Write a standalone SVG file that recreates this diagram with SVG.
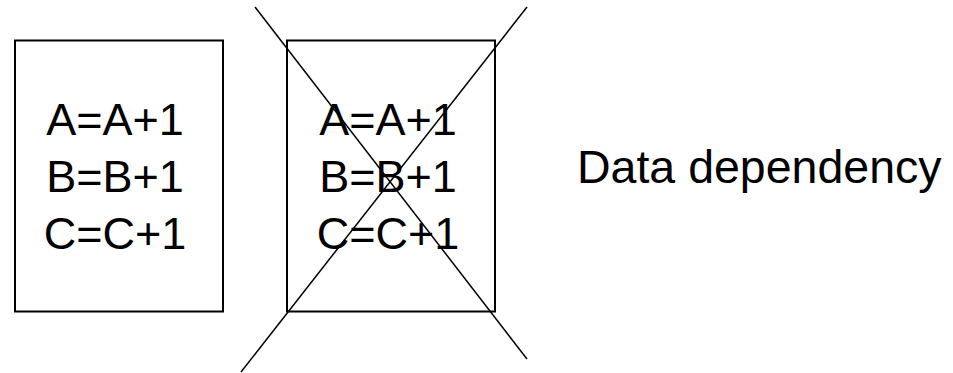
<svg xmlns="http://www.w3.org/2000/svg" width="953" height="373" viewBox="0 0 953 373">
<style>
.box{fill:none;stroke:#000;stroke-width:2}
.t{font-family:"Liberation Sans",Arial,sans-serif;font-size:45px;fill:#000;text-anchor:middle}
.x{stroke:#000;stroke-width:1.5;fill:none}
</style>
<rect width="953" height="373" fill="#fff"/>
<g id="block1">
<rect class="box" x="15" y="40.5" width="208" height="271"/>
<text class="t" x="115" y="135">A=A+1</text>
<text class="t" x="115" y="192">B=B+1</text>
<text class="t" x="115" y="249">C=C+1</text>
</g>
<g id="block2">
<rect class="box" x="287" y="40.5" width="208" height="271"/>
<text class="t" x="388" y="135">A=A+1</text>
<text class="t" x="388" y="192">B=B+1</text>
<text class="t" x="388" y="249">C=C+1</text>
</g>
<g id="connectors">
<line class="x" x1="255" y1="7" x2="527" y2="359"/>
<line class="x" x1="527" y1="7" x2="241" y2="372"/>
</g>
<g id="label">
<text class="t" x="577" y="183" style="text-anchor:start;font-size:46.5px">Data dependency</text>
</g>
</svg>
